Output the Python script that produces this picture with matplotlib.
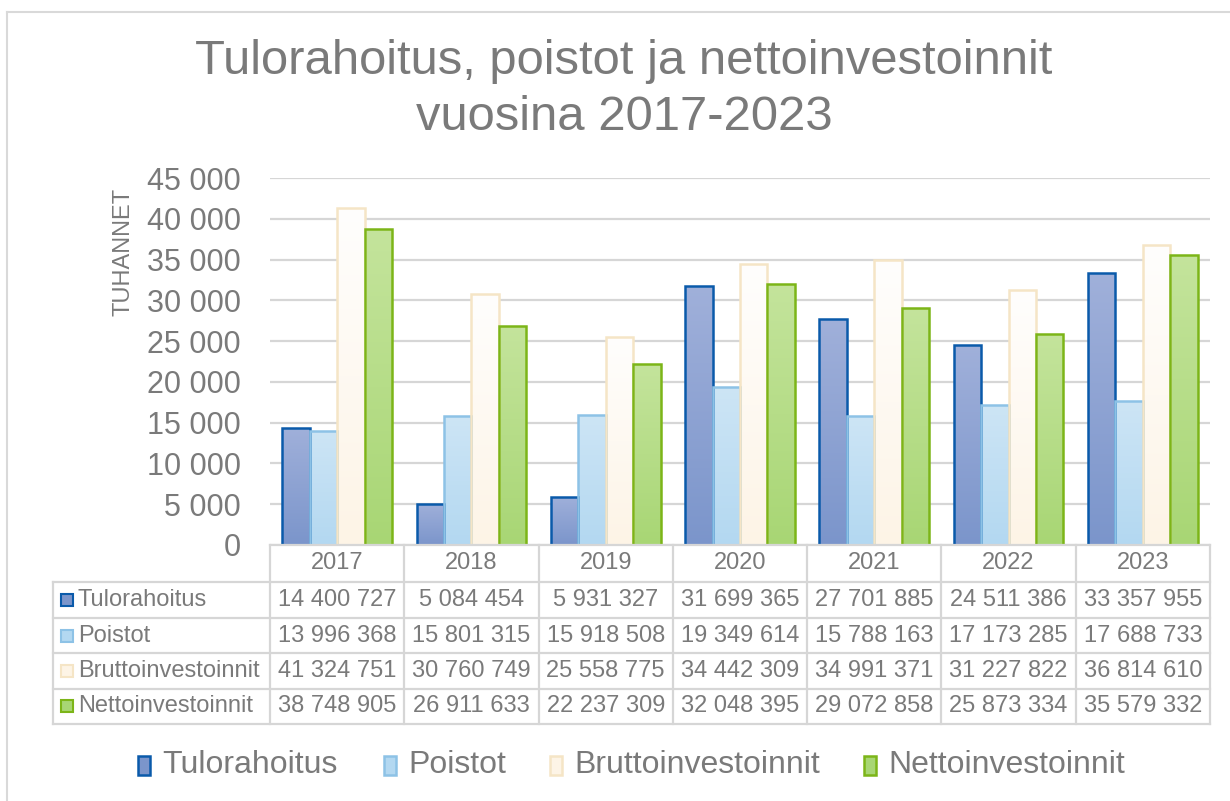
import numpy as np
import matplotlib.pyplot as plt
import matplotlib.transforms as mtransforms
from matplotlib.colors import LinearSegmentedColormap
from matplotlib.patches import Rectangle
from matplotlib.lines import Line2D

plt.rcParams['font.family'] = ['Liberation Sans', 'DejaVu Sans']

years = ['2017', '2018', '2019', '2020', '2021', '2022', '2023']
series = ['Tulorahoitus', 'Poistot', 'Bruttoinvestoinnit', 'Nettoinvestoinnit']
tulorahoitus = [14400727, 5084454, 5931327, 31699365, 27701885, 24511386, 33357955]
poistot = [13996368, 15801315, 15918508, 19349614, 15788163, 17173285, 17688733]
brutto = [41324751, 30760749, 25558775, 34442309, 34991371, 31227822, 36814610]
netto = [38748905, 26911633, 22237309, 32048395, 29072858, 25873334, 35579332]
values = [tulorahoitus, poistot, brutto, netto]

top_cols = ['#a0b0da', '#cde5f5', '#fffefd', '#c4e49c']
bot_cols = ['#7b95cb', '#b3d8f1', '#fdf4e6', '#a8d674']
edge_cols = ['#0a5aaa', '#8dc2e6', '#f5e5c6', '#7cb518']
text_col = '#7a7a7a'

W, H = 1230, 801
fig = plt.figure(figsize=(W / 100, H / 100), dpi=100)


def fx(px):
    return px / W


def fy(py):
    return 1 - py / H


# outer chart frame
fig.add_artist(Line2D([fx(7), fx(7)], [fy(12), 0], color='#d9d9d9', lw=1.5))
fig.add_artist(Line2D([fx(7), 1], [fy(12), fy(12)], color='#d9d9d9', lw=1.5))

fig.text(fx(624), fy(62), 'Tulorahoitus, poistot ja nettoinvestoinnit',
         ha='center', va='center', size=35.3, color=text_col)
fig.text(fx(624), fy(118), 'vuosina 2017-2023',
         ha='center', va='center', size=35.3, color=text_col)

ax = fig.add_axes([fx(270), fy(545), 940 / W, (545 - 178) / H])
x = np.arange(len(years))
w = 0.204
grad = np.linspace(0, 1, 256).reshape(-1, 1)
for k in range(4):
    vals = np.array(values[k]) / 1000
    bars = ax.bar(x + (k - 1.5) * w, vals, w, facecolor='none',
                  edgecolor=edge_cols[k], linewidth=1.8, zorder=3)
    cmap = LinearSegmentedColormap.from_list('g%d' % k, [bot_cols[k], top_cols[k]])
    for b in bars:
        bx, bw, bh = b.get_x(), b.get_width(), b.get_height()
        im = ax.imshow(grad, extent=[bx, bx + bw, 0, bh], origin='lower',
                       aspect='auto', cmap=cmap, zorder=2)
        im.set_clip_path(b)

ax.set_xlim(-0.5, 6.5)
ax.set_ylim(0, 45000)
ax.set_yticks(np.arange(0, 45001, 5000))
ax.set_yticklabels([f'{int(v):,}'.replace(',', ' ') for v in np.arange(0, 45001, 5000)])
ax.tick_params(axis='y', length=0, pad=21, labelsize=22, labelcolor=text_col)
ax.set_xticks([])
ax.grid(axis='y', color='#d6d6d6', lw=1.6, zorder=0)
for s in ax.spines.values():
    s.set_visible(False)

fig.text(fx(123), fy(252), 'TUHANNET', rotation=90, ha='center', va='center',
         size=17, color=text_col)

# data table
trans = mtransforms.blended_transform_factory(ax.transData, fig.transFigure)
line_col = '#d6d6d6'
for i in range(len(years) + 1):
    fig.add_artist(Line2D([i - 0.5, i - 0.5], [fy(545), fy(724)], transform=trans,
                          color=line_col, lw=1.6))
fig.add_artist(Line2D([fx(53), fx(53)], [fy(582), fy(724)], color=line_col, lw=1.6))
fig.add_artist(Line2D([-0.5, 6.5], [fy(545), fy(545)], transform=trans,
                      color=line_col, lw=1.6))
row_lines = [582, 618, 653, 689, 724]
for ry in row_lines:
    fig.add_artist(Line2D([fx(53), fx(1210)], [fy(ry), fy(ry)], color=line_col, lw=1.6))

for i, yr in enumerate(years):
    fig.text(i, fy(563), yr, transform=trans, ha='center', va='center',
             size=17, color=text_col)

row_centers = [600, 636, 671, 706]
for k in range(4):
    ry = row_centers[k]
    fig.add_artist(Rectangle((fx(61), fy(ry + 6)), 12 / W, 12 / H,
                             facecolor=bot_cols[k], edgecolor=edge_cols[k], lw=1.5))
    fig.text(fx(78), fy(ry), series[k], ha='left', va='center', size=17, color=text_col)
    for i, v in enumerate(values[k]):
        fig.text(i, fy(ry), f'{v:,}'.replace(',', ' '), transform=trans,
                 ha='center', va='center', size=17, color=text_col)

# legend
leg_x = [162, 408, 574, 888]
for k in range(4):
    fig.add_artist(Rectangle((fx(leg_x[k] - 24), fy(775)), 12 / W, 19 / H,
                             facecolor=bot_cols[k], edgecolor=edge_cols[k], lw=1.8))
    fig.text(fx(leg_x[k]), fy(765), series[k], ha='left', va='center',
             size=23, color=text_col)

fig.savefig('out.png', dpi=100)
